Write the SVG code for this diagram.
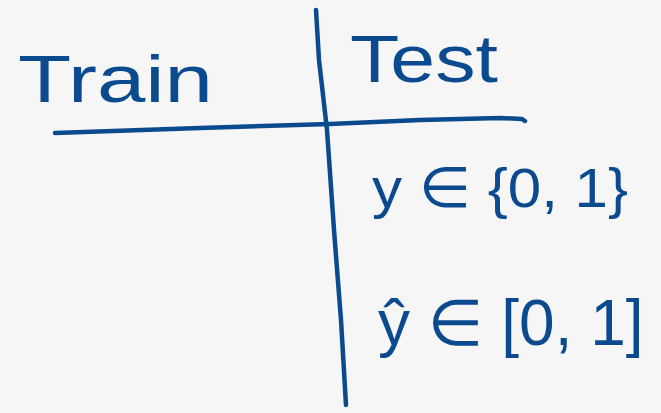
<svg xmlns="http://www.w3.org/2000/svg" width="661" height="413" viewBox="0 0 661 413">
<style>
.ink{fill:#0b4a8f;font-family:"Liberation Sans","DejaVu Sans",sans-serif;}
.ln{fill:none;stroke:#0b4a8f;stroke-width:4.5;stroke-linecap:round;stroke-linejoin:round;}
</style>
<rect width="661" height="413" fill="#f6f6f6"/>
<g id="connectors">
<path class="ln" d="M316 10 L319 60 L327 130 L334 230 L341 320 L346 405"/>
<path class="ln" d="M55 133 L200 128 L330 124 L420 120 L500 118 L522 119 L525 121"/>
</g>
<g id="train"><text class="ink" x="18" y="102" font-size="66" textLength="195" lengthAdjust="spacingAndGlyphs">Train</text></g>
<g id="test"><text class="ink" x="350" y="82" font-size="66" textLength="148" lengthAdjust="spacingAndGlyphs">Test</text></g>
<g id="y-label"><text class="ink" x="372" y="207" font-size="56" textLength="256" lengthAdjust="spacingAndGlyphs">y ∈ {0, 1}</text></g>
<g id="yhat-label"><text class="ink" x="378" y="345" font-size="64">ŷ ∈ [0, 1]</text></g>
</svg>
